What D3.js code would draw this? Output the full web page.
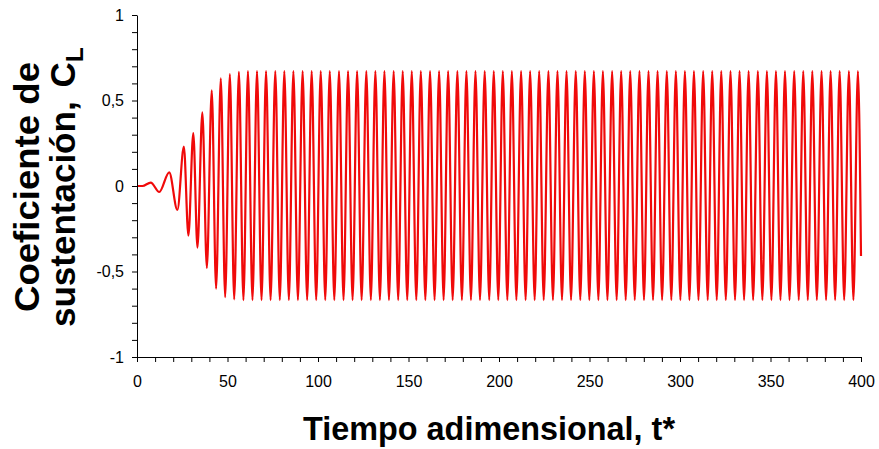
<!DOCTYPE html>
<html>
<head>
<meta charset="utf-8">
<script src="https://cdn.jsdelivr.net/npm/d3@7"></script>
<style>
  body { margin: 0; background: #fff; }
  svg { display: block; }
  .axis text { font-family: Arial, "Liberation Sans", sans-serif; font-size: 16px; fill: #000; }
  .axis path, .axis line { stroke: #000; stroke-width: 1; }
</style>
</head>
<body>
<svg width="879" height="449"></svg>
<script>
// CL time history: the extrema (peaks and troughs) in order
var tStar = [0, 3, 7.6, 12.3, 17.8, 22.3, 25.9, 28.4, 31.1, 33.4, 36.1, 38.6, 41.3, 43.7, 46.3, 48.7,
  51.3, 53.7, 56.3, 58.8, 61.3, 63.8,
  66.3, 68.8, 71.3, 73.8, 76.4, 78.9, 81.4, 83.9, 86.4, 88.9, 91.5, 94.0, 96.5, 99.0,
  101.5, 104.0, 106.5, 109.0, 111.6, 114.1, 116.6, 119.1, 121.6, 124.1, 126.7, 129.2, 131.7, 134.2,
  136.7, 139.2, 141.8, 144.3, 146.8, 149.3, 151.8, 154.3, 156.8, 159.3, 161.9, 164.4, 166.9, 169.4,
  171.9, 174.4, 177.0, 179.5, 182.0, 184.5, 187.0, 189.5, 192.1, 194.6, 197.1, 199.6, 202.1, 204.6,
  207.1, 209.6, 212.2, 214.7, 217.2, 219.7, 222.2, 224.7, 227.3, 229.8, 232.3, 234.8, 237.3, 239.8,
  242.4, 244.9, 247.4, 249.9, 252.4, 254.9, 257.4, 259.9, 262.5, 265.0, 267.5, 270.0, 272.5, 275.0,
  277.6, 280.1, 282.6, 285.1, 287.6, 290.1, 292.7, 295.2, 297.7, 300.2, 302.7, 305.2, 307.7, 310.2,
  312.8, 315.3, 317.8, 320.3, 322.8, 325.3, 327.9, 330.4, 332.9, 335.4, 337.9, 340.4, 343.0, 345.5,
  348.0, 350.5, 353.0, 355.5, 358.0, 360.5, 363.1, 365.6, 368.1, 370.6, 373.1, 375.6, 378.2, 380.7,
  383.2, 385.7, 388.2, 390.7, 393.3, 395.8, 398.3, 400];

var cl = [0, 0, 0.02, -0.035, 0.08, -0.14, 0.23, -0.29, 0.31, -0.36, 0.43, -0.48, 0.56, -0.60, 0.63, -0.65,
  0.655, -0.663, 0.668, -0.667, 0.672, -0.667,
  0.672, -0.667, 0.672, -0.667, 0.672, -0.667, 0.672, -0.667, 0.672, -0.667, 0.672, -0.667, 0.672, -0.667,
  0.672, -0.667, 0.672, -0.667, 0.672, -0.667, 0.672, -0.667, 0.672, -0.667, 0.672, -0.667, 0.672, -0.667,
  0.672, -0.667, 0.672, -0.667, 0.672, -0.667, 0.672, -0.667, 0.672, -0.667, 0.672, -0.667, 0.672, -0.667,
  0.672, -0.667, 0.672, -0.667, 0.672, -0.667, 0.672, -0.667, 0.672, -0.667, 0.672, -0.667, 0.672, -0.667,
  0.672, -0.667, 0.672, -0.667, 0.672, -0.667, 0.672, -0.667, 0.672, -0.667, 0.672, -0.667, 0.672, -0.667,
  0.672, -0.667, 0.672, -0.667, 0.672, -0.667, 0.672, -0.667, 0.672, -0.667, 0.672, -0.667, 0.672, -0.667,
  0.672, -0.667, 0.672, -0.667, 0.672, -0.667, 0.672, -0.667, 0.672, -0.667, 0.672, -0.667, 0.672, -0.667,
  0.672, -0.667, 0.672, -0.667, 0.672, -0.667, 0.672, -0.667, 0.672, -0.667, 0.672, -0.667, 0.672, -0.667,
  0.672, -0.667, 0.672, -0.667, 0.672, -0.667, 0.672, -0.667, 0.672, -0.667, 0.672, -0.667, 0.672, -0.667,
  0.672, -0.667, 0.672, -0.667, 0.672, -0.667, 0.672, -0.41];

var xTicks = d3.range(0, 401, 10);      // minor every 10, labelled every 50
var yTicks = d3.range(-10, 11).map(function (d) { return d / 10; });

var xTitle = "Tiempo adimensional, t*";
var yTitle1 = "Coeficiente de";
var yTitle2 = "sustentación,";
var yTitleC = "C";
var yTitleSub = "L";

var main = function () {
  var svg = d3.select('svg');
  var left = 137, right = 861, top = 15, bottom = 357;

  var x = d3.scaleLinear().domain([0, 400]).range([left, right]);
  var y = d3.scaleLinear().domain([-1, 1]).range([bottom, top]);

  svg.append('rect').attr('width', 879).attr('height', 449).attr('fill', '#fff');

  // series
  var pts = tStar.map(function (t, i) { return [t, cl[i]]; });
  var line = d3.line()
    .x(function (d) { return x(d[0]); })
    .y(function (d) { return y(d[1]); })
    .curve(d3.curveMonotoneX);
  svg.append('path')
    .datum(pts)
    .attr('d', line)
    .attr('fill', 'none')
    .attr('stroke', '#f00a0a')
    .attr('stroke-width', 2.2)
    .attr('stroke-linejoin', 'round');

  // axes
  var fmtY = function (d) {
    var v = Math.round(d * 10);
    return v % 5 === 0 ? String(v / 10).replace('.', ',') : '';
  };
  var fmtX = function (d) { return d % 50 === 0 ? d : ''; };

  svg.append('g')
    .attr('class', 'axis')
    .attr('transform', 'translate(' + left + ',0)')
    .call(d3.axisLeft(y).tickValues(yTicks).tickFormat(fmtY).tickSize(5).tickPadding(8).tickSizeOuter(0));

  svg.append('g')
    .attr('class', 'axis')
    .attr('transform', 'translate(0,' + bottom + ')')
    .call(d3.axisBottom(x).tickValues(xTicks).tickFormat(fmtX).tickSize(5).tickPadding(14).tickSizeOuter(0));

  // titles
  svg.append('text')
    .attr('x', 303).attr('y', 440)
    .attr('textLength', 372).attr('lengthAdjust', 'spacingAndGlyphs')
    .style('font-family', 'Arial, "Liberation Sans", sans-serif')
    .style('font-weight', 'bold').style('font-size', '33px')
    .text(xTitle);

  svg.append('text')
    .attr('transform', 'translate(39,312) rotate(-90)')
    .attr('textLength', 250).attr('lengthAdjust', 'spacingAndGlyphs')
    .style('font-family', 'Arial, "Liberation Sans", sans-serif')
    .style('font-weight', 'bold').style('font-size', '35px')
    .text(yTitle1);

  var t2 = svg.append('text')
    .attr('transform', 'translate(75,327) rotate(-90)')
    .style('font-family', 'Arial, "Liberation Sans", sans-serif')
    .style('font-weight', 'bold').style('font-size', '35px');
  t2.append('tspan').text(yTitle2);
  t2.append('tspan').attr('dx', 14).text(yTitleC);
  t2.append('tspan').attr('dy', 8).style('font-size', '24px').text(yTitleSub);
};
main();
</script>
</body>
</html>
